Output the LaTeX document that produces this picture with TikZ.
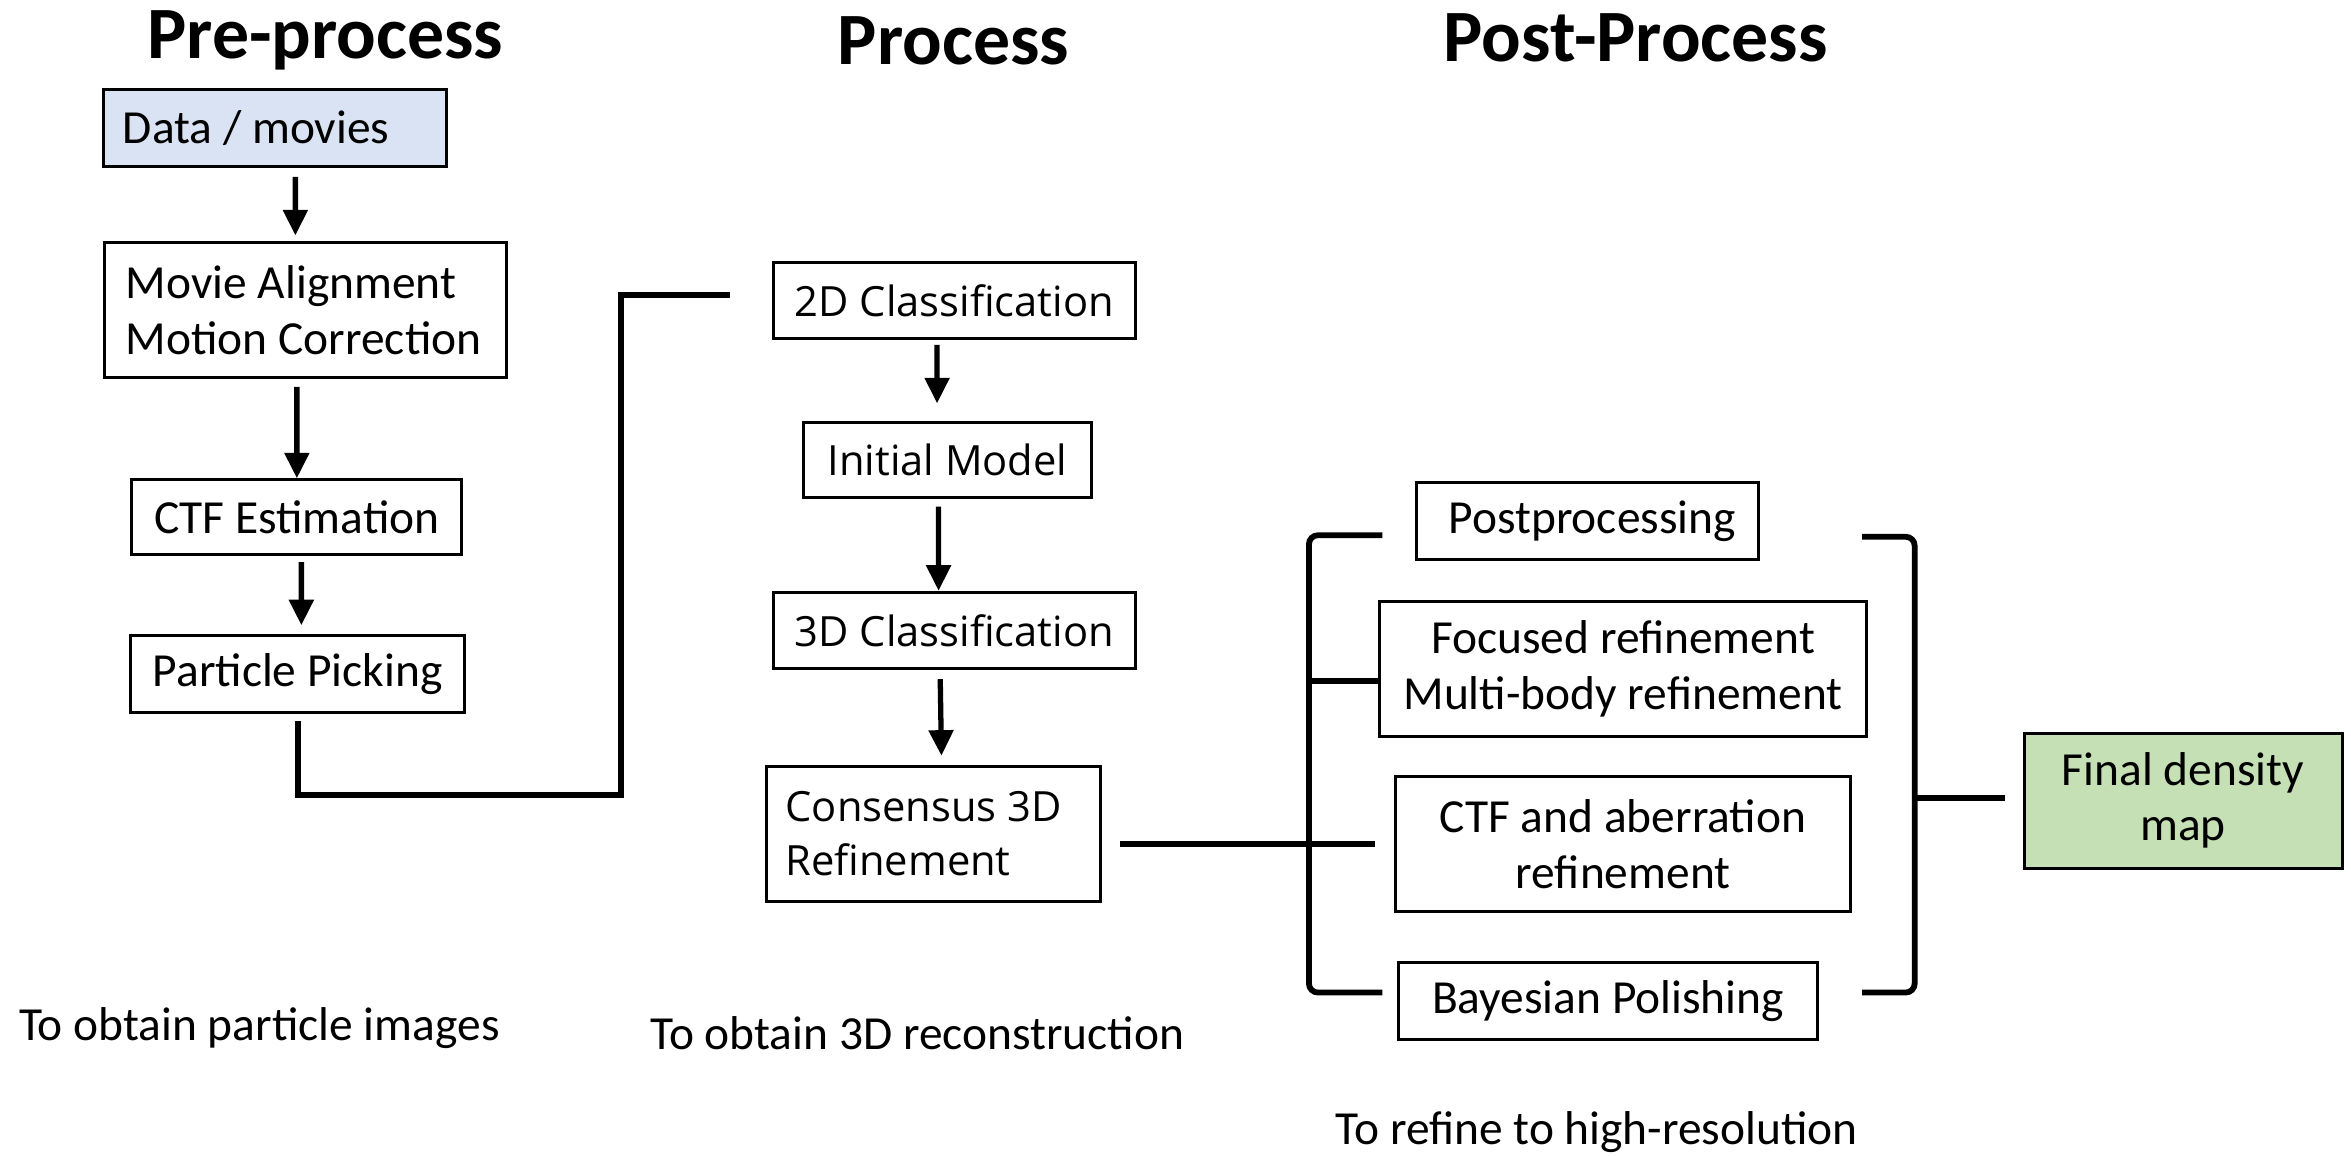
\documentclass[tikz,border=0pt]{standalone}
\usepackage{fontspec}
\setmainfont{Carlito}
\newfontfamily\midfont{Open Sans}
\usetikzlibrary{arrows.meta}
\definecolor{boxblue}{HTML}{DAE3F3}
\definecolor{boxgreen}{HTML}{C5E0B4}
\begin{document}
\begin{tikzpicture}[x=0.01cm,y=-0.01cm,
  every node/.style={inner sep=0pt},
  txt/.style={font=\fontsize{9}{10.5}\selectfont},
  ttl/.style={font=\fontsize{14}{17}\selectfont\bfseries, anchor=base},
  box/.style={draw=black, line width=0.55pt, align=center, txt},
  midbox/.style={draw=black, line width=0.55pt, align=center, font=\fontsize{7.9}{10.2}\selectfont\midfont},
  arr/.style={line width=1pt, -{Triangle[width=0.16cm,length=0.17cm]}},
  conn/.style={line width=1.1pt}]
\useasboundingbox (0,0) rectangle (1568,771);

% titles
\node[ttl] (t1) at (217,39) {Pre-process};
\node[ttl] (t2) at (636,43) {Process};
\node[ttl] (t3) at (1091,41) {Post-Process};

% left column
\node[box, fill=boxblue, minimum width=2.29cm, minimum height=0.51cm, align=left] (data) at (183.5,85.5) {\makebox[2.03cm][l]{Data / movies}};
\node[box, minimum width=2.68cm, minimum height=0.90cm, align=left] (mac) at (204,207) {\makebox[2.40cm][l]{Movie Alignment}\\\makebox[2.40cm][l]{Motion Correction}};
\node[box, minimum width=2.20cm, minimum height=0.50cm] (ctf) at (198,345) {CTF Estimation};
\node[box, minimum width=2.23cm, minimum height=0.51cm] (pp) at (198.5,449.5) {Particle Picking};

% middle column
\node[midbox, minimum width=2.41cm, minimum height=0.51cm] (c2d) at (636.5,200.5) {2D Classification};
\node[midbox, minimum width=1.92cm, minimum height=0.50cm] (im) at (632,307) {Initial Model};
\node[midbox, minimum width=2.41cm, minimum height=0.51cm] (c3d) at (636.5,420.5) {3D Classification};
\node[midbox, minimum width=2.23cm, minimum height=0.90cm, align=left] (cons) at (622.5,556) {\makebox[1.97cm][l]{Consensus 3D}\\\makebox[1.97cm][l]{Refinement}};

% right column
\node[box, minimum width=2.28cm, minimum height=0.51cm] (post) at (1059,347.5) {\hspace{0.06cm}Postprocessing};
\node[box, minimum width=3.25cm, minimum height=0.90cm] (foc) at (1082.5,446) {Focused refinement\\Multi-body refinement};
\node[box, minimum width=3.03cm, minimum height=0.90cm] (ctfab) at (1082.5,563) {CTF and aberration\\refinement};
\node[box, minimum width=2.79cm, minimum height=0.51cm] (bay) at (1072.5,667.5) {Bayesian Polishing};
\node[box, fill=boxgreen, minimum width=2.12cm, minimum height=0.90cm] (final) at (1456,534) {Final density\\map};

% bottom texts
\node[txt, anchor=west] (n1) at (12,686) {To obtain particle images};
\node[txt, anchor=west] (n2) at (433,689) {To obtain 3D reconstruction};
\node[txt, anchor=west] (n3) at (890,755) {To refine to high-resolution};

% arrows
\draw[arr, shorten <=0.06cm, shorten >=0.04cm] ([xshift=0.135cm]data.south) -- ([xshift=-0.07cm]mac.north);
\draw[arr, shorten <=0.05cm] ([xshift=-0.06cm]mac.south) -- (ctf.north);
\draw[arr, shorten <=0.04cm, shorten >=0.06cm] ([xshift=0.03cm]ctf.south) -- ([xshift=0.025cm]pp.north);
\draw[arr, shorten <=0.03cm, shorten >=0.12cm] ([xshift=-0.115cm]c2d.south) -- ([xshift=-0.07cm]im.north);
\draw[arr, shorten <=0.05cm] ([xshift=-0.06cm]im.south) -- ([xshift=-0.105cm]c3d.north);
\draw[arr, shorten <=0.06cm, shorten >=0.06cm] ([xshift=-0.095cm]c3d.south) -- ([xshift=0.055cm]cons.north);

% pre-process to process connector
\coordinate (j1) at (414,530);
\coordinate (j2) at (414,197);
\draw[conn, shorten >=0.28cm] ([yshift=-0.05cm]pp.south) |- (j1) -- (j2) -- (j2 -| c2d.west);

% process to post-process
\draw[conn, shorten <=0.12cm, shorten >=0.13cm] (cons.east |- ctfab.west) -- (ctfab.west);

% left bracket
\coordinate (lt) at (922,357);
\coordinate (lb) at (922,662);
\coordinate (lx) at (873,454);
\draw[conn, rounded corners=0.06cm] (lt) -- (873,357) -- (873,662) -- (lb);
\draw[conn] (lx) -- (lx -| foc.west);

% right bracket
\coordinate (rt) at (1242,358);
\coordinate (rb) at (1242,662);
\coordinate (rx) at (1277,532);
\draw[conn, rounded corners=0.06cm] (rt) -- (1277,358) -- (1277,662) -- (rb);
\draw[conn, shorten >=0.12cm] (rx) -- (rx -| final.west);
\end{tikzpicture}
\end{document}
